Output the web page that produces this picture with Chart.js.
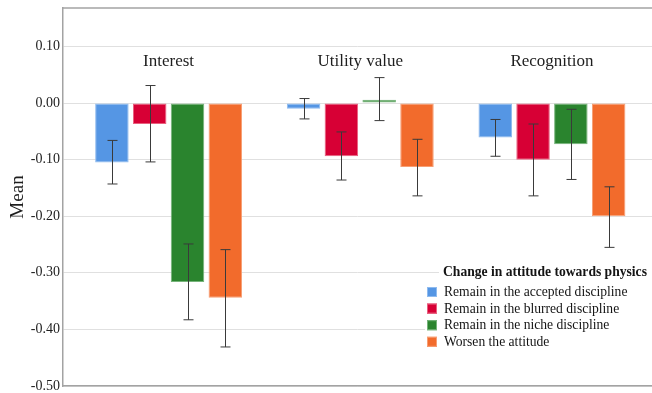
<!DOCTYPE html>
<html>
<head>
<meta charset="utf-8">
<script src="https://cdn.jsdelivr.net/npm/chart.js@4/dist/chart.umd.min.js"></script>
<style>
  html, body { margin: 0; padding: 0; background: #fff; }
  canvas { display: block; }
</style>
</head>
<body>
<canvas id="chart" width="652" height="393"></canvas>
<script>
// Scales measured in the study, one group of bars each
const categories = ['Interest', 'Utility value', 'Recognition'];

// Groups of students by change in attitude
const legendTitle = 'Change in attitude towards physics';
const seriesNames = [
  'Remain in the accepted discipline',
  'Remain in the blurred discipline',
  'Remain in the niche discipline',
  'Worsen the attitude'
];

// Means and error-bar limits per group (Interest, Utility value, Recognition)
const acceptedMean = [-0.105, -0.010, -0.061];
const acceptedLow  = [-0.143, -0.028, -0.094];
const acceptedHigh = [-0.066,  0.008, -0.029];

const blurredMean = [-0.037, -0.094, -0.100];
const blurredLow  = [-0.104, -0.136, -0.164];
const blurredHigh = [ 0.031, -0.051, -0.037];

const nicheMean = [-0.316,  0.006, -0.073];
const nicheLow  = [-0.383, -0.031, -0.135];
const nicheHigh = [-0.249,  0.045, -0.011];

const worsenMean = [-0.344, -0.113, -0.200];
const worsenLow  = [-0.431, -0.164, -0.255];
const worsenHigh = [-0.259, -0.064, -0.148];

const yTicks = [0.10, 0.00, -0.10, -0.20, -0.30, -0.40, -0.50];

const fills   = ['#5596e4', '#d70035', '#2a842e', '#f26b2c'];
const borders = ['#8fbbef', '#e8607f', '#76b47a', '#f79e73'];

const means = [acceptedMean, blurredMean, nicheMean, worsenMean];
const lows  = [acceptedLow, blurredLow, nicheLow, worsenLow];
const highs = [acceptedHigh, blurredHigh, nicheHigh, worsenHigh];

const SERIF = '"Liberation Serif", "DejaVu Serif", serif';
const FRAME = '#a3a3a3';

const datasets = seriesNames.map((name, s) => ({
  label: name,
  data: categories.map((c, i) => ({ x: i, y: means[s][i] })),
  low: lows[s],
  high: highs[s],
  backgroundColor: fills[s],
  borderColor: borders[s],
  borderWidth: 1,
  borderSkipped: false,
  categoryPercentage: 0.789,
  barPercentage: 0.886
}));

// Whiskers with caps on every bar
const errorBars = {
  id: 'errorBars',
  afterDatasetsDraw(chart) {
    const { ctx } = chart;
    const y = chart.scales.y;
    ctx.save();
    ctx.strokeStyle = '#3a3a3a';
    ctx.lineWidth = 1;
    chart.data.datasets.forEach((ds, d) => {
      const meta = chart.getDatasetMeta(d);
      meta.data.forEach((bar, i) => {
        const x = Math.round(bar.x) + 0.5;
        const yl = y.getPixelForValue(ds.low[i]);
        const yh = y.getPixelForValue(ds.high[i]);
        ctx.beginPath();
        ctx.moveTo(x, yh); ctx.lineTo(x, yl);
        ctx.moveTo(x - 5, yh); ctx.lineTo(x + 5, yh);
        ctx.moveTo(x - 5, yl); ctx.lineTo(x + 5, yl);
        ctx.stroke();
      });
    });
    ctx.restore();
  }
};

// Group names inside the plot, top frame line, legend box
const decorations = {
  id: 'decorations',
  afterDatasetsDraw(chart) {
    const { ctx, chartArea } = chart;
    const x = chart.scales.x;
    ctx.save();
    ctx.fillStyle = '#1e1e1e';
    ctx.font = '17px ' + SERIF;
    ctx.textAlign = 'center';
    ctx.textBaseline = 'middle';
    categories.forEach((c, i) => ctx.fillText(c, x.getPixelForValue(i), 62));

    ctx.strokeStyle = FRAME;
    ctx.lineWidth = 1.5;
    ctx.beginPath();
    ctx.moveTo(chartArea.left - 0.75, chartArea.top);
    ctx.lineTo(chartArea.right, chartArea.top);
    ctx.stroke();
    ctx.restore();
  },
  afterDraw(chart) {
    const { ctx } = chart;
    ctx.save();
    ctx.fillStyle = '#ffffff';
    ctx.fillRect(439, 263, 213, 19);
    ctx.fillRect(425, 283, 227, 68);

    ctx.fillStyle = '#141414';
    ctx.textAlign = 'left';
    ctx.textBaseline = 'middle';
    ctx.font = 'bold 13.6px ' + SERIF;
    ctx.fillText(legendTitle, 443, 272);

    ctx.font = '13.6px ' + SERIF;
    seriesNames.forEach((name, s) => {
      const cy = 292 + s * 16.6;
      ctx.fillStyle = fills[s];
      ctx.fillRect(427, cy - 5, 10, 10);
      ctx.strokeStyle = borders[s];
      ctx.lineWidth = 1;
      ctx.strokeRect(427.5, cy - 4.5, 9, 9);
      ctx.fillStyle = '#141414';
      ctx.fillText(name, 444, cy + 0.5);
    });
    ctx.restore();
  }
};

new Chart(document.getElementById('chart'), {
  type: 'bar',
  data: { datasets },
  plugins: [errorBars, decorations],
  options: {
    responsive: false,
    animation: false,
    layout: { padding: { top: 8, right: 0, left: 0, bottom: 0 } },
    plugins: { legend: { display: false }, tooltip: { enabled: false } },
    scales: {
      x: {
        type: 'linear',
        offset: false,
        min: -0.551,
        max: 2.522,
        afterBuildTicks: s => { s.ticks = categories.map((c, i) => ({ value: i })); },
        afterFit: s => { s.height = 7; s.paddingLeft = 0; s.paddingRight = 0; },
        ticks: { display: false },
        grid: { display: false },
        border: { display: true, color: FRAME, width: 1.5 }
      },
      y: {
        min: -0.5,
        max: 0.168,
        afterBuildTicks: s => { s.ticks = yTicks.map(v => ({ value: v })); },
        afterFit: s => { s.width = 63; s.paddingTop = 0; s.paddingBottom = 0; },
        ticks: {
          callback: v => (Math.abs(v) < 1e-9 ? 0 : v).toFixed(2),
          font: { family: SERIF, size: 14 },
          color: '#1e1e1e',
          padding: 3
        },
        grid: { color: '#e0e0e0', lineWidth: 1, drawTicks: false },
        border: { display: true, color: FRAME, width: 1.5 },
        title: {
          display: true,
          text: 'Mean',
          font: { family: SERIF, size: 19 },
          color: '#1e1e1e',
          padding: { top: 7, bottom: 0 }
        }
      }
    }
  }
});
</script>
</body>
</html>
